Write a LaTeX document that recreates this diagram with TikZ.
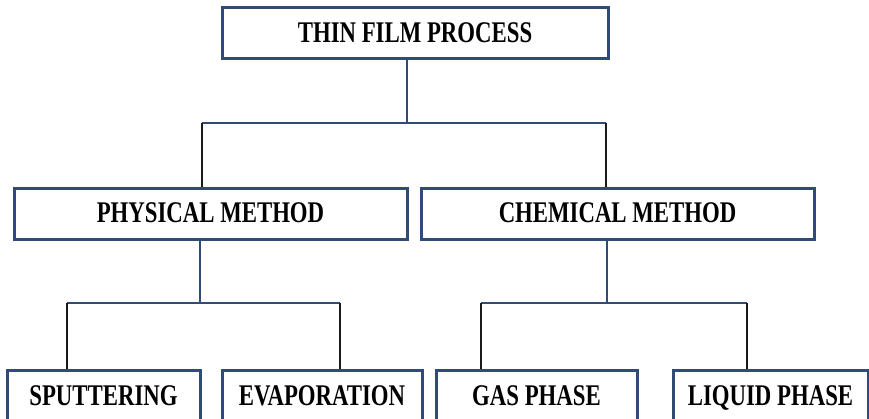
\documentclass[tikz,border=0pt]{standalone}
\usepackage{fontspec}
\setmainfont{Liberation Serif}
\usepackage{graphicx}
\definecolor{boxblue}{HTML}{2F4B76}
\definecolor{legblack}{HTML}{1A1A1A}
\newcommand{\sqz}[1]{\scalebox{0.76}[1]{#1}}
\tikzset{
  box/.style={draw=boxblue, line width=3pt, fill=white, inner sep=0pt, anchor=base,
    font=\fontsize{30}{31}\selectfont\bfseries},
  conn/.style={draw=boxblue, line width=2.6pt},
  leg/.style={draw=legblack, line width=2.6pt}
}
\begin{document}
\begin{tikzpicture}[x=1pt,y=-1pt]
\useasboundingbox (0,0) rectangle (869,419);
\clip (0,0) rectangle (869,419);
% nodes
\node[box, minimum width=386pt, text height=35pt, text depth=16pt] (top) at (415,43) {\sqz{THIN FILM PROCESS}};
\node[box, minimum width=393pt, text height=34pt, text depth=17pt] (phys) at (210.5,223) {\sqz{PHYSICAL METHOD}};
\node[box, minimum width=393pt, text height=34pt, text depth=17pt] (chem) at (617.5,223) {\sqz{CHEMICAL METHOD}};
\node[box, minimum width=193pt, text height=35pt, text depth=25pt] (sput) at (103.5,405) {\sqz{SPUTTERING}};
\node[box, minimum width=200pt, text height=35pt, text depth=25pt] (evap) at (322,405) {\sqz{EVAPORATION}};
\node[box, minimum width=201pt, text height=35pt, text depth=25pt] (gas) at (536.5,405) {\sqz{GAS PHASE}};
\node[box, minimum width=195pt, text height=35pt, text depth=25pt] (liq) at (770.5,405) {\sqz{LIQUID PHASE}};
% junction coordinates
\coordinate (j1) at (407,123);
\coordinate (l1) at (202,123);
\coordinate (r1) at (606,123);
\coordinate (j2) at (200,303);
\coordinate (l2) at (67,303);
\coordinate (r2) at (340,303);
\coordinate (j3) at (607,303);
\coordinate (l3) at (481,303);
\coordinate (r3) at (747,303);
% connectors
\draw[conn] (j1 |- top.south) -- (j1);
\draw[conn] (l1) -- (r1);
\draw[leg] (l1) -- (l1 |- phys.north);
\draw[leg] (r1) -- (r1 |- chem.north);
\draw[conn] (j2 |- phys.south) -- (j2);
\draw[conn] (l2) -- (r2);
\draw[leg] (l2) -- (l2 |- sput.north);
\draw[leg] (r2) -- (r2 |- evap.north);
\draw[conn] (j3 |- chem.south) -- (j3);
\draw[conn] (l3) -- (r3);
\draw[leg] (l3) -- (l3 |- gas.north);
\draw[leg] (r3) -- (r3 |- liq.north);
\end{tikzpicture}
\end{document}
